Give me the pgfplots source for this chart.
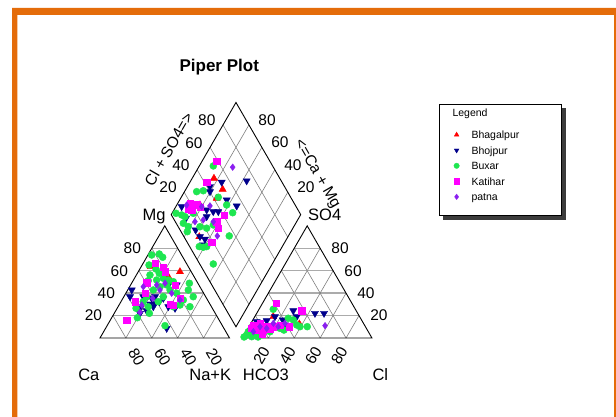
\documentclass[border=0pt]{standalone}
\usepackage{fontspec}
\setmainfont{Liberation Sans}
\usepackage{pgfplots}
\usepackage{pgfplotstable}
\pgfplotsset{compat=1.18}

\definecolor{frameorange}{HTML}{E46C0A}
\definecolor{cBhag}{HTML}{FF0000}
\definecolor{cBhoj}{HTML}{00008B}
\definecolor{cBux}{HTML}{1EE650}
\definecolor{cKat}{HTML}{FF00FF}
\definecolor{cPat}{HTML}{8A1EF0}
\definecolor{shadowgray}{HTML}{3C3C3C}

\tikzset{
  hgrid/.style={draw=black!33, line width=1.4pt},
  dgrid/.style={draw=black!50, line width=0.6pt},
  outline/.style={draw=black, line width=0.9pt, line join=miter},
}

% ---------- cation triangle: Mg and Na+K in % (Ca is the rest) ----------
\pgfplotstableread{
mg nak
63.6 7.4
59.1 32.2
54.7 25.4
}\catBhag
\pgfplotstableread{
mg nak
42.8 3.1
36.8 4.8
36.8 15.0
35.4 22.2
36.8 24.1
30.3 23.5
30.9 27.0
32.4 29.6
26.5 17.6
24.3 23.9
27.9 27.2
35.4 31.2
27.9 38.8
26.5 44.7
22.0 19.9
8.6 47.2
47.3 35.6
47.3 29.1
}\catBhoj
\pgfplotstableread{
mg nak
74.0 2.9
74.9 8.3
72.0 12.4
65.1 5.3
61.5 12.5
57.7 16.9
56.2 10.5
51.1 11.7
51.7 17.9
53.2 22.3
51.7 26.9
50.2 31.5
48.8 44.6
42.8 46.8
36.8 53.6
39.9 39.3
42.8 32.7
47.3 27.9
45.7 23.5
42.8 19.8
36.8 17.6
33.9 47.4
27.9 55.5
27.9 42.6
29.4 47.1
32.4 28.8
27.9 23.3
26.5 14.6
22.0 27.1
18.1 19.8
11.0 44.7
32.4 17.2
36.8 30.5
}\catBux
\pgfplotstableread{
mg nak
66.6 9.2
63.0 17.4
59.1 20.6
49.3 11.4
39.9 14.8
47.3 34.3
35.4 44.1
30.3 38.9
29.4 41.9
32.4 10.8
16.1 12.6
}\catKat
\pgfplotstableread{
mg nak
47.3 20.2
48.8 25.8
42.8 24.9
39.9 35.4
45.7 10.6
29.4 17.5
22.9 19.4
35.4 23.0
33.9 44.8
}\catPat

% ---------- anion triangle: SO4 and Cl in % (HCO3 is the rest) ----------
\pgfplotstableread{
so4 cl
19.0 14.3
12.5 37.7
}\anBhag
\pgfplotstableread{
so4 cl
19.0 15.6
24.3 27.1
22.0 45.0
22.0 52.0
19.0 32.4
16.1 23.1
14.5 3.7
15.4 11.0
11.6 27.1
10.7 9.7
}\anBhoj
\pgfplotstableread{
so4 cl
25.6 11.0
17.6 26.6
16.1 31.2
11.6 36.1
10.1 45.0
10.1 39.4
2.7 1.9
5.6 1.7
1.2 6.6
3.3 9.4
4.7 13.7
5.6 18.5
8.6 24.7
0.9 0.8
0.9 11.6
7.1 28.5
}\anBux
\pgfplotstableread{
so4 cl
30.9 10.4
24.3 33.6
10.1 31.1
11.6 2.6
13.1 7.0
10.7 13.4
10.1 18.8
7.1 7.4
7.1 12.5
7.8 17.4
8.6 2.8
3.6 13.3
11.6 23.2
}\anKat
\pgfplotstableread{
so4 cl
11.0 58.3
10.1 8.5
8.6 14.4
13.1 17.3
10.1 22.6
13.1 26.3
5.6 5.6
}\anPat

% ---------- diamond: Ca+Mg and Cl+SO4 in % ----------
\pgfplotstableread{
camg clso4
83.2 49.2
71.6 51.0
72.2 42.4
68.5 11.8
82.1 26.5
}\diBhag
\pgfplotstableread{
camg clso4
75.5 53.4
56.8 73.3
82.6 42.4
80.3 40.2
63.7 49.4
53.3 54.4
95.5 11.6
74.7 29.5
65.0 37.7
87.0 9.8
71.7 26.5
74.3 12.0
68.0 12.4
63.0 15.1
62.2 10.8
68.9 33.8
}\diBhoj
\pgfplotstableread{
camg clso4
89.2 54.2
90.6 29.9
85.9 35.4
71.4 44.1
61.5 47.1
53.4 48.3
96.9 4.3
91.8 7.9
88.5 9.7
86.8 5.5
81.5 7.8
72.4 16.8
66.6 21.3
62.9 27.9
45.7 35.3
64.1 7.4
60.7 10.2
58.4 13.1
45.5 10.5
80.0 4.8
83.6 17.6
}\diBux
\pgfplotstableread{
camg clso4
88.8 59.0
87.1 41.8
90.6 19.5
84.7 24.0
86.3 17.9
81.1 25.5
89.2 15.6
59.1 40.6
61.8 32.0
57.6 30.3
56.4 18.9
}\diKat
\pgfplotstableread{
camg clso4
73.7 68.6
92.4 16.2
80.0 27.1
74.0 33.8
78.5 15.2
72.9 22.4
64.4 29.3
54.9 26.1
}\diPat

% ternary -> plane (triangle side = 100, gap between triangles = 10)
\pgfplotsset{
  table/cation/.style={x expr={\thisrow{nak}+0.5*\thisrow{mg}}, y expr={0.8660254*\thisrow{mg}}},
  table/anion/.style={x expr={110+\thisrow{cl}+0.5*\thisrow{so4}}, y expr={0.8660254*\thisrow{so4}}},
  table/diamond/.style={x expr={105+0.5*(\thisrow{clso4}-\thisrow{camg})},
                        y expr={8.660254+0.8660254*(\thisrow{camg}+\thisrow{clso4})}},
  sBhag/.style={only marks, color=cBhag, mark=triangle*, mark size=4.1pt},
  sBhoj/.style={only marks, color=cBhoj, mark=triangle*, mark size=4.1pt, mark options={rotate=180}},
  sBux/.style={only marks, color=cBux, mark=*, mark size=3.5pt},
  sKat/.style={only marks, color=cKat, mark=square*, mark size=3.2pt},
  sPat/.style={only marks, color=cPat, mark=diamond*, mark size=3.3pt},
}

\newcommand\tickfont{\fontsize{15.5}{18}\selectfont}
\newcommand\cornerfont{\fontsize{16.5}{19}\selectfont}

\begin{document}
\begin{tikzpicture}
\useasboundingbox (0,0) rectangle (616pt,417pt);
\fill[white] (0,0) rectangle (616pt,417pt);

\begin{axis}[
  at={(0pt,0pt)}, anchor=south west,
  scale only axis, width=616pt, height=417pt,
  xmin=-77.22, xmax=398.46, ymin=-61.0, ymax=261.0,
  hide axis, clip=false,
  legend cell align=left,
  legend image code/.code={\path[draw=none, fill=none] (-4pt,0pt) rectangle (4pt,7.4pt);
                           \draw[#1, mark size=2.7pt] plot coordinates {(0pt,3.7pt)};},
  legend style={at={(axis cs:272.3,159.9)}, anchor=north west,
    draw=none, fill=none, inner sep=0pt, outer sep=0pt,
    column sep=10.9pt, row sep=5.7pt,
    font=\fontsize{10.5}{12}\selectfont,
    cells={anchor=base west},
    nodes={inner sep=0pt, text height=7.6pt, text depth=2.2pt}},
]

% ----- grids -----
\pgfplotsinvokeforeach{20,40,60,80}{
  \draw[hgrid] (axis cs:{#1/2},{0.8660254*#1}) -- (axis cs:{100-#1/2},{0.8660254*#1});
  \draw[dgrid] (axis cs:#1,0) -- (axis cs:{#1/2},{0.8660254*#1});
  \draw[dgrid] (axis cs:#1,0) -- (axis cs:{#1+(100-#1)/2},{0.8660254*(100-#1)});
  \draw[hgrid] (axis cs:{110+#1/2},{0.8660254*#1}) -- (axis cs:{210-#1/2},{0.8660254*#1});
  \draw[dgrid] (axis cs:{110+#1},0) -- (axis cs:{110+#1/2},{0.8660254*#1});
  \draw[dgrid] (axis cs:{110+#1},0) -- (axis cs:{110+#1+(100-#1)/2},{0.8660254*(100-#1)});
  \draw[dgrid] (axis cs:{105-0.5*#1},{8.660254+0.8660254*#1}) -- (axis cs:{155-0.5*#1},{95.26279+0.8660254*#1});
  \draw[dgrid] (axis cs:{105+0.5*#1},{8.660254+0.8660254*#1}) -- (axis cs:{55+0.5*#1},{95.26279+0.8660254*#1});
}

% ----- outlines -----
\draw[outline] (axis cs:0,0) -- (axis cs:100,0) -- (axis cs:50,86.60254) -- cycle;
\draw[outline] (axis cs:110,0) -- (axis cs:210,0) -- (axis cs:160,86.60254) -- cycle;
\draw[outline] (axis cs:105,8.660254) -- (axis cs:155,95.26279) -- (axis cs:105,181.86533) -- (axis cs:55,95.26279) -- cycle;

% ----- tick labels -----
\node[font=\tickfont, anchor=east] at (axis cs:4.3,17.32) {20};
\node[font=\tickfont, anchor=east] at (axis cs:14.3,34.64) {40};
\node[font=\tickfont, anchor=east] at (axis cs:24.3,51.96) {60};
\node[font=\tickfont, anchor=east] at (axis cs:34.3,69.28) {80};

\node[font=\tickfont, anchor=west, rotate=-60] at (axis cs:23.55,-6.64) {80};
\node[font=\tickfont, anchor=west, rotate=-60] at (axis cs:43.55,-6.64) {60};
\node[font=\tickfont, anchor=west, rotate=-60] at (axis cs:63.55,-6.64) {40};
\node[font=\tickfont, anchor=west, rotate=-60] at (axis cs:83.55,-6.64) {20};

\node[font=\tickfont, anchor=east, rotate=60] at (axis cs:129.5,-5.64) {20};
\node[font=\tickfont, anchor=east, rotate=60] at (axis cs:149.5,-5.64) {40};
\node[font=\tickfont, anchor=east, rotate=60] at (axis cs:169.5,-5.64) {60};
\node[font=\tickfont, anchor=east, rotate=60] at (axis cs:189.5,-5.64) {80};

\node[font=\tickfont, anchor=west] at (axis cs:206,17.32) {20};
\node[font=\tickfont, anchor=west] at (axis cs:196,34.64) {40};
\node[font=\tickfont, anchor=west] at (axis cs:186,51.96) {60};
\node[font=\tickfont, anchor=west] at (axis cs:176,69.28) {80};

\node[font=\tickfont, anchor=east] at (axis cs:61.9,116.1) {20};
\node[font=\tickfont, anchor=east] at (axis cs:71.9,133.4) {40};
\node[font=\tickfont, anchor=east] at (axis cs:81.9,150.7) {60};
\node[font=\tickfont, anchor=east] at (axis cs:91.9,168.0) {80};

\node[font=\tickfont, anchor=west] at (axis cs:149.6,116.4) {20};
\node[font=\tickfont, anchor=west] at (axis cs:139.6,133.8) {40};
\node[font=\tickfont, anchor=west] at (axis cs:129.6,151.1) {60};
\node[font=\tickfont, anchor=west] at (axis cs:119.6,168.4) {80};

% ----- corner and side titles -----
\node[font=\cornerfont, anchor=base] at (axis cs:41.7,90.6) {Mg};
\node[font=\cornerfont, anchor=base] at (axis cs:173.5,90.6) {SO4};
\node[font=\cornerfont, anchor=base] at (axis cs:-8.6,-33.2) {Ca};
\node[font=\cornerfont, anchor=base] at (axis cs:85.1,-33.2) {Na+K};
\node[font=\cornerfont, anchor=base] at (axis cs:128.1,-33.2) {HCO3};
\node[font=\cornerfont, anchor=base] at (axis cs:216.5,-33.2) {Cl};
\node[font=\tickfont, rotate=60] at (axis cs:53.0,145.8) {Cl + SO4=>};
\node[font=\tickfont, rotate=-60] at (axis cs:167.6,126.6) {<=Ca + Mg};

\node[font=\fontsize{17}{20}\selectfont\bfseries, anchor=base] at (axis cs:92.1,205.6) {Piper Plot};

% ----- legend frame -----
\fill[shadowgray] (axis cs:265.0,177.4) rectangle (axis cs:359.8,91.5);
\filldraw[fill=white, draw=black, line width=0.7pt] (axis cs:261.9,180.5) rectangle (axis cs:356.6,94.6);
\node[font=\fontsize{10.5}{12}\selectfont, anchor=west] at (axis cs:269.5,173.2) {Legend};

% ----- samples -----
\addplot[sBhag] table[cation] {\catBhag}; \addlegendentry{Bhagalpur}
\addplot[sBhoj] table[cation] {\catBhoj}; \addlegendentry{Bhojpur}
\addplot[sBux]  table[cation] {\catBux};  \addlegendentry{Buxar}
\addplot[sKat]  table[cation] {\catKat};  \addlegendentry{Katihar}
\addplot[sPat]  table[cation] {\catPat};  \addlegendentry{patna}

\addplot[sBhag, forget plot] table[anion] {\anBhag};
\addplot[sBhoj, forget plot] table[anion] {\anBhoj};
\addplot[sBux,  forget plot] table[anion] {\anBux};
\addplot[sKat,  forget plot] table[anion] {\anKat};
\addplot[sPat,  forget plot] table[anion] {\anPat};

\addplot[sBhag, forget plot] table[diamond] {\diBhag};
\addplot[sBhoj, forget plot] table[diamond] {\diBhoj};
\addplot[sBux,  forget plot] table[diamond] {\diBux};
\addplot[sKat,  forget plot] table[diamond] {\diKat};
\addplot[sPat,  forget plot] table[diamond] {\diPat};
\end{axis}

% ----- page frame -----
\fill[frameorange, even odd rule] (12pt,409pt) rectangle (624pt,-10pt)
                                 (17.3pt,402pt) rectangle (614pt,-20pt);
\end{tikzpicture}
\end{document}
